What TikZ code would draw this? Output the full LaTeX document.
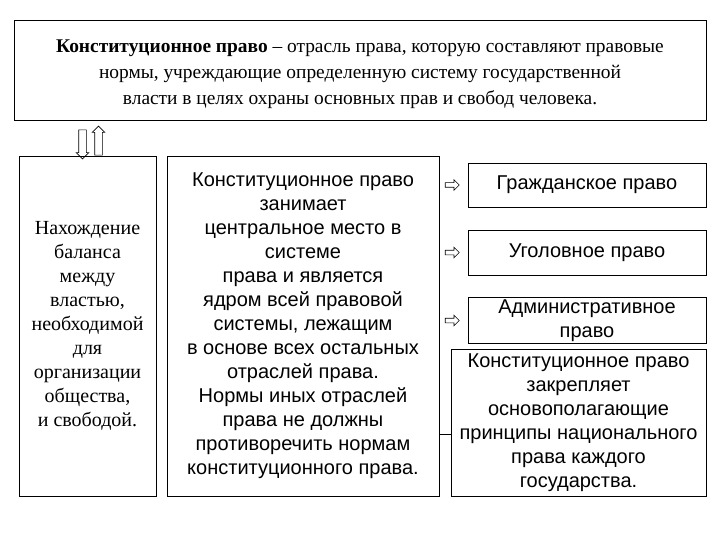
\documentclass[tikz,border=0pt]{standalone}
\usepackage{fontspec}
\setmainfont{Liberation Serif}
\setsansfont{Liberation Sans}
\usetikzlibrary{shapes.arrows,positioning}
\tikzset{
  box/.style={draw,semithick,align=center,inner sep=2pt},
  serifbox/.style={box,font=\fontsize{20}{24}\selectfont},
  sansbox/.style={box,font=\sffamily\fontsize{20}{24}\selectfont},
  hollow/.style={single arrow,draw,semithick,single arrow head indent=0pt},
  bigarrow/.style={hollow,minimum height=29pt,inner sep=3.5pt,single arrow head extend=2.5pt},
  smallarrow/.style={hollow,minimum height=14pt,inner sep=2pt,single arrow head extend=3pt}
}

\begin{document}
\begin{tikzpicture}[x=1pt,y=-1pt]
  \useasboundingbox (0,0) rectangle (720,540);
  % definition
  \node[serifbox,minimum width=692pt,minimum height=100pt,font=\fontsize{19.4}{26}\selectfont]
    (def) at (360,70) {\rule{0pt}{22pt}\textbf{Конституционное право} -- отрасль права, которую составляют правовые\\
    нормы, учреждающие определенную систему государственной\\
    власти в целях охраны основных прав и свобод человека.};
  % left and middle boxes
  \node[serifbox,minimum width=137pt,minimum height=340pt] (balance) at (87.5,326)
    {Нахождение\\баланса\\между\\властью,\\необходимой\\для\\организации\\общества,\\и свободой.};
  \node[sansbox,minimum width=272pt,minimum height=340pt] (center) at (303,326)
    {Конституционное право\\занимает\\центральное место в\\системе\\права и является\\
    ядром всей правовой\\системы, лежащим\\в основе всех остальных\\отраслей права.\\
    Нормы иных отраслей\\права не должны\\противоречить нормам\\конституционного права.};
  % branches
  \node[sansbox,minimum width=238pt,minimum height=44pt] (civil) at (587,185) {Гражданское право};
  \node[sansbox,minimum width=238pt,minimum height=45pt] (criminal) at (587,252.5) {Уголовное право};
  \node[sansbox,minimum width=238pt,minimum height=45pt] (admin) at (587,320.5) {Административное\\право};
  \node[sansbox,minimum width=255pt,minimum height=147pt] (principles) at (578.5,422.5)
    {Конституционное право\\закрепляет\\основополагающие\\принципы национального\\права каждого\\государства.};
  % arrows
  \node[bigarrow,shape border rotate=270] (down) at (82.5,142.5) {};
  \node[bigarrow,shape border rotate=90] (up) at (98.5,142.5) {};
  \node[smallarrow,left=8pt of civil] (toCivil) {};
  \node[smallarrow,left=8pt of criminal] (toCriminal) {};
  \node[smallarrow,left=8pt of admin] (toAdmin) {};
  \draw[semithick] ([yshift=-11.5pt]principles.west) -- ([yshift=-11.5pt]principles.west -| center.east);
\end{tikzpicture}
\end{document}
